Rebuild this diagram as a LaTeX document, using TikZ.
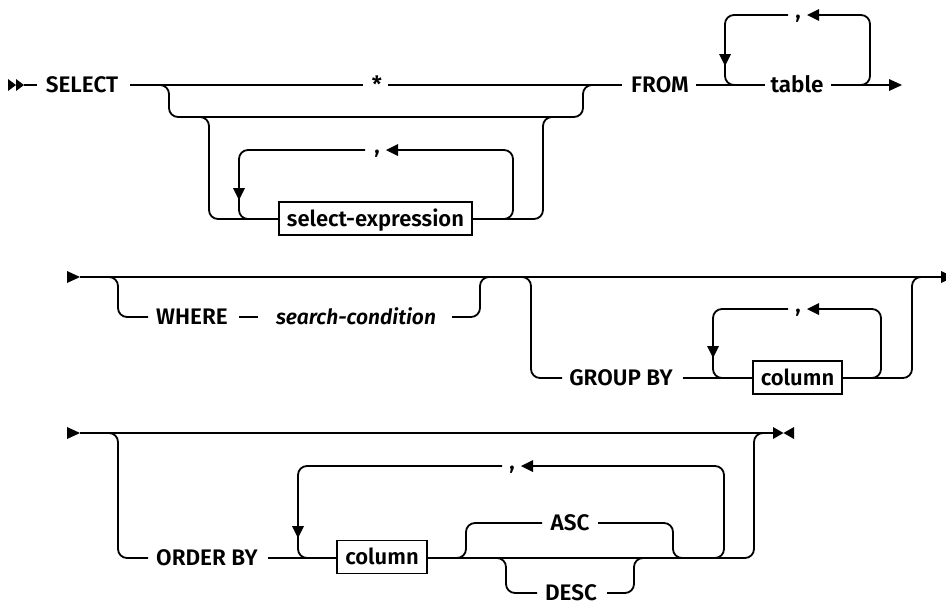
\documentclass[tikz,border=0pt]{standalone}
\usepackage{fontspec}
\setmainfont{Fira Sans}[UprightFont=* SemiBold, ItalicFont=* SemiBold Italic]
\usetikzlibrary{arrows.meta}
\tikzset{
  rr/.style={line width=1.8pt, rounded corners=9pt},
  ln/.style={line width=1.8pt},
  lbl/.style={inner sep=0pt, font=\fontsize{22.5}{25}\selectfont, text height=15.5pt, text depth=0pt},
  commalbl/.style={inner sep=0pt, font=\fontsize{22.5}{25}\selectfont, anchor=base},
  boxn/.style={draw, line width=1.3pt, inner sep=0pt, font=\fontsize{22}{25}\selectfont, text height=15.5pt, text depth=0pt, minimum height=33pt},
}
\begin{document}
\begin{tikzpicture}[x=1pt,y=-1pt]
\useasboundingbox[fill=white] (0,0) rectangle (946,603);
% ---------------- row 1
\fill (8,79) -- (16,85) -- (8,91) -- cycle;
\fill (16,79) -- (24,85) -- (16,91) -- cycle;
\coordinate (s0) at (24,85);
\coordinate (s1) at (37,85);
\draw[ln] (s0) -- (s1);
\node[lbl] (select) at (82,85) {SELECT};
\node[lbl] (star) at (377,85) {*};
\node[lbl] (from) at (660,85) {FROM};
\node[lbl] (table) at (797,85) {table};
\draw[ln] (130,85) -- (363,85);
\draw[ln] (388,85) -- (622,85);
\draw[ln] (696,85) -- (765,85);
\draw[ln] (831,85) -- (890,85);
\fill (889,79) -- (902,85) -- (889,91) -- cycle;
% table loop
\draw[rr] (748,85) -- (725,85) -- (725,15) -- (788,15);
\draw[rr] (818,15) -- (870,15) -- (870,85) -- (848,85);
\node[commalbl] (c1) at (798,18) {,};
\fill (819,9) -- (807,15) -- (819,21) -- cycle;
\fill (719,54) -- (731,54) -- (725,66) -- cycle;
% select branches
\draw[rr] (152,85) -- (169,85) -- (169,117) -- (583,117) -- (583,85) -- (600,85);
\draw[rr] (192,117) -- (209,117) -- (209,219) -- (279,219);
\node[boxn, minimum width=193pt] (sexp) at (375.5,218.5) {select-expression};
\draw[rr] (472,219) -- (543,219) -- (543,117) -- (560,117);
\draw[rr] (496,219) -- (513,219) -- (513,150) -- (397,150);
\draw[rr] (365,150) -- (239,150) -- (239,219) -- (256,219);
\node[commalbl] (c2) at (377,153) {,};
\fill (398,144) -- (386,150) -- (398,156) -- cycle;
\fill (233,188) -- (245,188) -- (239,200) -- cycle;
% ---------------- row 2
\fill (67,271) -- (80,277) -- (67,283) -- cycle;
\draw[ln] (80,277) -- (941,277);
\fill (941,271) -- (954,277) -- (941,283) -- cycle;
\draw[rr] (101,277) -- (118,277) -- (118,317) -- (148,317);
\node[lbl] (where) at (192,317) {WHERE};
\draw[ln] (239,317) -- (258,317);
\node[lbl, font=\fontsize{21}{24}\selectfont] (sc) at (356,317) {\itshape search-condition};
\draw[rr] (452,317) -- (480,317) -- (480,277) -- (497,277);
\draw[rr] (514,277) -- (531,277) -- (531,378) -- (562,378);
\node[lbl] (gb) at (621,378) {GROUP BY};
\draw[ln] (683,378) -- (753,378);
\node[boxn, minimum width=89pt] (col1) at (797.5,377.5) {column};
\draw[rr] (842,378) -- (912,378) -- (912,277) -- (929,277);
\draw[rr] (864,378) -- (881,378) -- (881,309) -- (818,309);
\draw[rr] (788,309) -- (713,309) -- (713,378) -- (730,378);
\node[commalbl] (c3) at (798,312) {,};
\fill (819,303) -- (807,309) -- (819,315) -- cycle;
\fill (707,346) -- (719,346) -- (713,358) -- cycle;
% ---------------- row 3
\fill (67,427) -- (80,433) -- (67,439) -- cycle;
\draw[ln] (80,433) -- (774,433);
\fill (773,427) -- (783.5,433) -- (773,439) -- cycle;
\fill (794,427) -- (783.5,433) -- (794,439) -- cycle;
\draw[rr] (101,433) -- (118,433) -- (118,558) -- (148,558);
\node[lbl] (ob) at (207,558) {ORDER BY};
\draw[ln] (268,558) -- (337,558);
\node[boxn, minimum width=90pt] (col2) at (382,557) {column};
\draw[rr] (427,558) -- (754,558) -- (754,433) -- (771,433);
\draw[rr] (449,558) -- (466,558) -- (466,523) -- (542,523);
\node[lbl] (asc) at (570,523) {ASC};
\draw[rr] (598,523) -- (673,523) -- (673,558) -- (690,558);
\draw[rr] (489,558) -- (506,558) -- (506,593) -- (537,593);
\node[lbl] (desc) at (571,593) {DESC};
\draw[rr] (607,593) -- (634,593) -- (634,558) -- (651,558);
\draw[rr] (707,558) -- (724,558) -- (724,466) -- (532,466);
\draw[rr] (502,466) -- (298,466) -- (298,558) -- (315,558);
\node[commalbl] (c4) at (512,469) {,};
\fill (533,460) -- (521,466) -- (533,472) -- cycle;
\fill (292,526) -- (304,526) -- (298,538) -- cycle;
\end{tikzpicture}
\end{document}
